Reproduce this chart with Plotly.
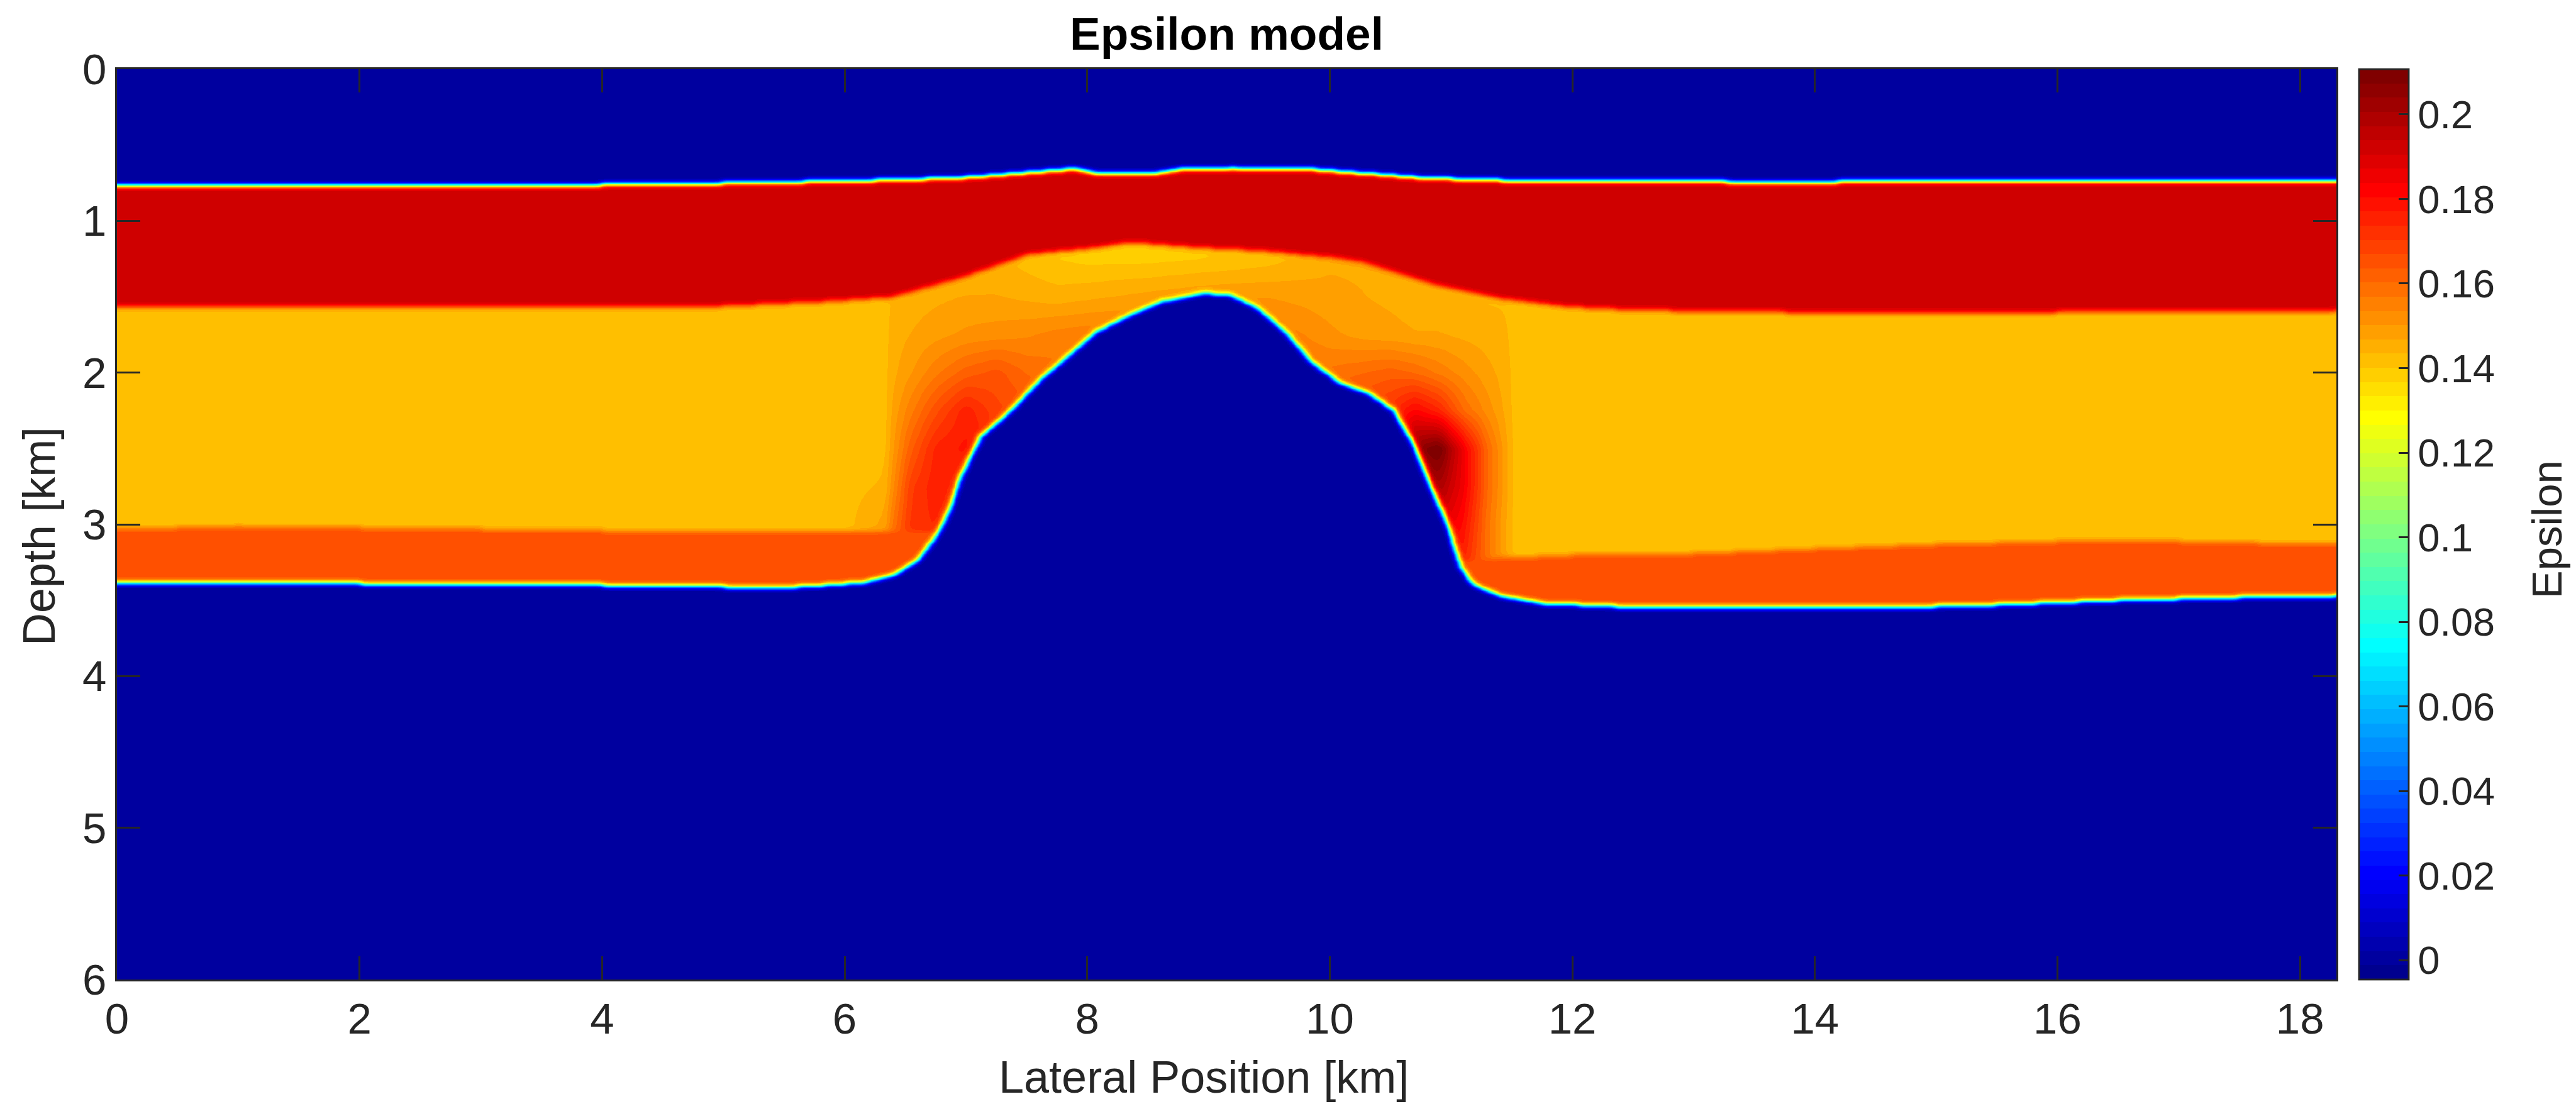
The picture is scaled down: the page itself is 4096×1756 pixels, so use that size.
import numpy as np
import plotly.graph_objects as go

# ---------------- data (km / epsilon) ----------------
X_MAX = 18.3
Z_MAX = 6.0

SEAFLOOR_X = [0.0, 2.0, 4.0, 5.0, 6.0, 6.5, 7.0, 7.5, 7.9, 8.1, 8.5, 8.8, 9.2, 9.8, 10.3, 10.8, 11.4, 13.0, 13.7, 14.5, 16.0, 18.3]
SEAFLOOR_Z = [0.77, 0.765, 0.76, 0.75, 0.735, 0.725, 0.71, 0.68, 0.655, 0.69, 0.69, 0.655, 0.65, 0.655, 0.685, 0.715, 0.73, 0.735, 0.748, 0.735, 0.735, 0.737]

L1_BASE_X = [0.0, 2.0, 4.0, 5.0, 5.84, 6.39, 6.95, 7.51, 8.07, 8.35, 8.9, 9.46, 10.02, 10.3, 10.86, 11.41, 11.97, 12.53, 14.6, 16.0, 18.3]
L1_BASE_Z = [1.57, 1.57, 1.57, 1.56, 1.53, 1.50, 1.375, 1.22, 1.175, 1.14, 1.175, 1.197, 1.24, 1.275, 1.42, 1.51, 1.565, 1.587, 1.609, 1.60, 1.59]

L3_TOP_X = [0.0, 1.0, 2.0, 3.0, 4.0, 5.0, 6.0, 6.5, 7.0, 8.0, 10.0, 11.0, 11.4, 12.0, 13.0, 14.0, 15.0, 16.0, 17.0, 18.3]
L3_TOP_Z = [3.03, 3.01, 3.02, 3.03, 3.04, 3.05, 3.05, 3.04, 3.05, 3.10, 3.20, 3.25, 3.22, 3.20, 3.19, 3.16, 3.13, 3.11, 3.11, 3.13]

BASE_X = [0.0, 1.0, 2.0, 3.0, 4.0, 5.0, 5.5, 5.84, 6.17, 6.39, 6.5, 6.62, 6.70, 6.76, 6.87, 6.95, 7.12, 7.34, 7.62, 7.84, 8.07, 8.35, 8.62, 8.96,
          9.18, 9.41, 9.63, 9.85, 10.08, 10.30, 10.52, 10.69, 10.86, 10.97, 11.08, 11.19, 11.41, 11.75, 12.53, 13.5, 14.5, 15.5, 16.5, 17.5, 18.3]
BASE_Z = [3.39, 3.385, 3.39, 3.40, 3.40, 3.41, 3.415, 3.40, 3.38, 3.335, 3.29, 3.22, 3.13, 3.07, 2.89, 2.69, 2.42, 2.27, 2.04, 1.89, 1.73, 1.62, 1.53, 1.475,
          1.49, 1.575, 1.73, 1.93, 2.065, 2.13, 2.24, 2.47, 2.80, 3.00, 3.29, 3.40, 3.47, 3.52, 3.546, 3.55, 3.55, 3.53, 3.50, 3.48, 3.47]

EPS_WATER = 0.0
EPS_L1 = 0.192
EPS_L2 = 0.1418
EPS_L3 = 0.1653
EPS_SALT = 0.0

FLANK_X = [6.00, 6.33, 6.40, 6.55, 6.75, 7.00, 7.25, 7.50, 7.75, 8.00, 8.50, 9.00, 9.50, 9.75, 10.00, 10.25, 10.50, 10.70, 10.90, 11.10, 11.30, 11.45, 11.52, 11.70]
FLANK_Z = [1.25, 1.50, 1.75, 2.00, 2.25, 2.50, 2.75, 3.00, 3.25]
FLANK_EPS = [
    [.142, .142, .143, .143, .143, .143, .144, .142, .140, .139, .139, .140, .142, .144, .146, .146, .146, .145, .144, .143, .143, .143, .142, .142],
    [.142, .142, .144, .145, .146, .147, .147, .146, .145, .146, .148, .150, .150, .149, .148, .147, .146, .145, .145, .144, .143, .143, .142, .142],
    [.142, .142, .145, .147, .149, .151, .152, .153, .155, .156, .156, .156, .156, .154, .151, .149, .148, .147, .147, .146, .145, .144, .142, .142],
    [.142, .142, .146, .150, .156, .162, .165, .160, .158, .158, .158, .158, .158, .158, .158, .160, .162, .160, .156, .152, .148, .145, .142, .142],
    [.142, .142, .148, .156, .166, .176, .168, .165, .165, .165, .165, .165, .165, .165, .165, .168, .172, .182, .175, .160, .152, .146, .142, .142],
    [.142, .142, .150, .163, .175, .178, .172, .170, .170, .170, .170, .170, .170, .170, .170, .175, .185, .205, .212, .185, .160, .148, .142, .142],
    [.142, .144, .153, .170, .176, .172, .170, .170, .170, .170, .170, .170, .170, .170, .170, .175, .185, .195, .200, .185, .160, .148, .142, .142],
    [.142, .148, .158, .172, .174, .170, .170, .170, .170, .170, .170, .170, .170, .170, .170, .170, .178, .188, .190, .180, .158, .147, .142, .142],
    [.142, .150, .162, .170, .170, .170, .170, .170, .170, .170, .170, .170, .170, .170, .170, .170, .172, .175, .180, .175, .158, .147, .142, .142],
]

X_TICKS = [0, 2, 4, 6, 8, 10, 12, 14, 16, 18]
Y_TICKS = [0, 1, 2, 3, 4, 5, 6]
CBAR_TICKS = [0, 0.02, 0.04, 0.06, 0.08, 0.1, 0.12, 0.14, 0.16, 0.18, 0.2]
CBAR_LABELS = ["0", "0.02", "0.04", "0.06", "0.08", "0.1", "0.12", "0.14", "0.16", "0.18", "0.2"]
Z_MIN = -0.0046
Z_MAX_C = 0.2107

TITLE = "Epsilon model"
X_LABEL = "Lateral Position [km]"
Y_LABEL = "Depth [km]"
C_LABEL = "Epsilon"

# ---------------- build the model grid from the boundaries ----------------
DX, DZ = 0.02, 0.01
xg = np.round(np.arange(0, X_MAX + 1e-9, DX), 4)
zg = np.round(np.arange(0, Z_MAX + 1e-9, DZ), 4)
Z = zg[:, None]

sf = np.interp(xg, SEAFLOOR_X, SEAFLOOR_Z)[None, :]
l1b = np.interp(xg, L1_BASE_X, L1_BASE_Z)[None, :]
l3t = np.interp(xg, L3_TOP_X, L3_TOP_Z)[None, :]
base = np.interp(xg, BASE_X, BASE_Z)[None, :]

rows = np.array([np.interp(xg, FLANK_X, r) for r in FLANK_EPS])
layer2 = np.empty((len(zg), len(xg)))
for j in range(len(xg)):
    layer2[:, j] = np.interp(zg, FLANK_Z, rows[:, j])
outside = (xg < FLANK_X[0]) | (xg > FLANK_X[-1])
layer2[:, outside] = EPS_L2
layer2 = np.where(np.abs(layer2 - 0.142) < 1e-9, EPS_L2, layer2)

field = np.full((len(zg), len(xg)), EPS_L3)
m = np.broadcast_to(Z < l3t, field.shape)
field[m] = layer2[m]
field[np.broadcast_to(Z < l1b, field.shape)] = EPS_L1
field[np.broadcast_to(Z < sf, field.shape)] = EPS_WATER
field[np.broadcast_to(Z >= base, field.shape)] = EPS_SALT


def blur(a, sigma_cells, axis):
    h = int(np.ceil(3 * sigma_cells))
    k = np.exp(-0.5 * (np.arange(-h, h + 1) / sigma_cells) ** 2)
    k /= k.sum()
    pad = [(0, 0), (0, 0)]
    pad[axis] = (h, h)
    p = np.pad(a, pad, mode="edge")
    out = np.zeros_like(a)
    n = a.shape[axis]
    for i, w in enumerate(k):
        sl = [slice(None), slice(None)]
        sl[axis] = slice(i, i + n)
        out += w * p[tuple(sl)]
    return out


field = blur(field, 0.025 / DX, axis=1)
field = blur(field, 0.016 / DZ, axis=0)
field = field.astype(np.float32)


# ---------------- MATLAB jet(64), stepped ----------------
def jet(mm=64):
    nq = int(np.ceil(mm / 4))
    u = np.concatenate([np.arange(1, nq + 1) / nq, np.ones(nq - 1), np.arange(nq, 0, -1) / nq])
    g = int(np.ceil(nq / 2)) - (1 if mm % 4 == 1 else 0) + np.arange(1, len(u) + 1)
    r = g + nq
    b = g - nq
    J = np.zeros((mm, 3))
    for idx, val in zip(r, u):
        if 1 <= idx <= mm:
            J[idx - 1, 0] = val
    for idx, val in zip(g, u):
        if 1 <= idx <= mm:
            J[idx - 1, 1] = val
    for idx, val in zip(b, u):
        if 1 <= idx <= mm:
            J[idx - 1, 2] = val
    return J


J = jet(64)
cscale = []
for i, c in enumerate(J):
    col = "rgb(%d,%d,%d)" % tuple(int(round(v * 255)) for v in c)
    cscale.append([i / 64, col])
    cscale.append([(i + 1) / 64, col])

# ---------------- layout geometry (pixels, 0.936 of reference) ----------------
W, H = 4096, 1756
ML, MR, MT, MB = 186, 381, 110, 198
PW = W - ML - MR
PH = H - MT - MB
INK = "#262626"
FONT = "Liberation Sans"


def px(x):
    return (x - ML) / PW


def py(y):
    return (H - MB - y) / PH


fig = go.Figure()
fig.add_trace(go.Heatmap(
    x=xg, y=zg, z=field,
    colorscale=cscale, zmin=Z_MIN, zmax=Z_MAX_C, zsmooth="best",
    hoverinfo="skip",
    colorbar=dict(
        x=px(3751), xanchor="left", xpad=0, ypad=0,
        y=0.5, yanchor="middle", len=1.0, lenmode="fraction",
        thickness=79, thicknessmode="pixels",
        outlinewidth=2.8, outlinecolor=INK,
        tickmode="array", tickvals=CBAR_TICKS, ticktext=CBAR_LABELS,
        ticks="inside", ticklen=17, tickwidth=2.8, tickcolor=INK,
        tickfont=dict(family=FONT, size=63, color=INK),
    ),
))

axis_common = dict(
    ticks="inside", ticklen=37, tickwidth=2.8, tickcolor=INK,
    showline=True, linewidth=2.8, linecolor=INK, mirror="ticks",
    showgrid=False, zeroline=False,
    tickfont=dict(family=FONT, size=69, color=INK),
)

fig.update_layout(
    width=W, height=H,
    margin=dict(l=ML, r=MR, t=MT, b=MB, pad=0),
    paper_bgcolor="white", plot_bgcolor="white",
    xaxis=dict(range=[0, X_MAX], tickmode="array", tickvals=X_TICKS, **axis_common),
    yaxis=dict(range=[Z_MAX, 0], tickmode="array", tickvals=Y_TICKS, **axis_common),
    title=dict(text="<b>%s</b>" % TITLE, x=0.5, xref="paper", xanchor="center",
               y=1 - 53.4 / H, yref="container", yanchor="middle",
               font=dict(family=FONT, size=73, color="black")),
    annotations=[
        dict(text=X_LABEL, xref="paper", yref="paper", x=px(1914), y=py(1713),
             xanchor="center", yanchor="middle", showarrow=False,
             font=dict(family=FONT, size=72, color=INK)),
        dict(text=Y_LABEL, xref="paper", yref="paper", x=px(62), y=py(853),
             xanchor="center", yanchor="middle", showarrow=False, textangle=-90,
             font=dict(family=FONT, size=72, color=INK)),
        dict(text=C_LABEL, xref="paper", yref="paper", x=px(4049), y=py(842),
             xanchor="center", yanchor="middle", showarrow=False, textangle=-90,
             font=dict(family=FONT, size=67, color=INK)),
    ],
)

fig.write_html("out.html")
